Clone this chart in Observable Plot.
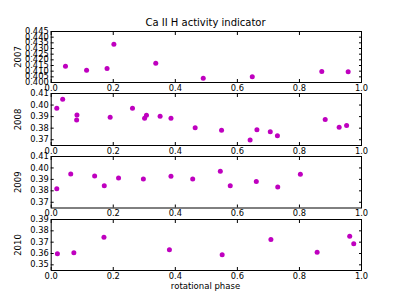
<!DOCTYPE html>
<html><head><meta charset="utf-8">
<script src="https://cdn.jsdelivr.net/npm/d3@7"></script>
<script src="https://cdn.jsdelivr.net/npm/@observablehq/plot@0.6"></script>
<style>
body{margin:0;background:#fff;}
#wrap{position:relative;width:401px;height:301px;font-family:"DejaVu Sans",sans-serif;overflow:hidden;}
#wrap svg{position:absolute;left:0;top:0;}
.t{position:absolute;color:#000;white-space:nowrap;transform:translateX(-50%);line-height:1;}
</style></head><body>
<div id="wrap">
<div class="t" id="title" style="left:205.5px;top:18px;font-size:10px;">Ca II H activity indicator</div>
<div class="t" id="xlab" style="left:205.5px;top:282px;font-size:8.5px;">rotational phase</div>
</div>
<script>
const years = ["2007", "2008", "2009", "2010"];

const phase2007 = [0.046, 0.114, 0.180, 0.202, 0.337, 0.490, 0.648, 0.872, 0.957];
const ca2007    = [0.4144, 0.4109, 0.4124, 0.4338, 0.4170, 0.4038, 0.4050, 0.4097, 0.4094];

const phase2008 = [0.018, 0.037, 0.083, 0.082, 0.190, 0.262, 0.301, 0.307, 0.351, 0.386, 0.464, 0.549, 0.641, 0.663, 0.706, 0.729, 0.883, 0.928, 0.952];
const ca2008    = [0.3972, 0.4050, 0.3915, 0.3871, 0.3894, 0.3972, 0.3885, 0.3911, 0.3903, 0.3885, 0.3804, 0.3781, 0.3697, 0.3787, 0.3770, 0.3735, 0.3874, 0.3807, 0.3824];

const phase2009 = [0.018, 0.063, 0.140, 0.171, 0.217, 0.297, 0.386, 0.456, 0.545, 0.577, 0.661, 0.730, 0.803];
const ca2009    = [0.3818, 0.3947, 0.3930, 0.3844, 0.3913, 0.3904, 0.3928, 0.3904, 0.3971, 0.3844, 0.3882, 0.3833, 0.3945];

const phase2010 = [0.020, 0.073, 0.170, 0.381, 0.551, 0.708, 0.857, 0.962, 0.975];
const ca2010    = [0.3598, 0.3607, 0.3743, 0.3633, 0.3590, 0.3723, 0.3610, 0.3752, 0.3685];

const xTicks = [0.0, 0.2, 0.4, 0.6, 0.8, 1.0];
const yTicks2007 = [0.400, 0.405, 0.410, 0.415, 0.420, 0.425, 0.430, 0.435, 0.440, 0.445];
const yTicks2008 = [0.37, 0.38, 0.39, 0.40, 0.41];
const yTicks2009 = [0.37, 0.38, 0.39, 0.40, 0.41];
const yTicks2010 = [0.35, 0.36, 0.37, 0.38, 0.39];
const yDomain2007 = [0.400, 0.445];
const yDomain2008 = [0.365, 0.410];
const yDomain2009 = [0.365, 0.410];
const yDomain2010 = [0.345, 0.390];

const panels = [
  {year: years[0], phase: phase2007, ca: ca2007, ticks: yTicks2007, domain: yDomain2007, digits: 3, top: 31, bottom: 82},
  {year: years[1], phase: phase2008, ca: ca2008, ticks: yTicks2008, domain: yDomain2008, digits: 2, top: 93, bottom: 145},
  {year: years[2], phase: phase2009, ca: ca2009, ticks: yTicks2009, domain: yDomain2009, digits: 2, top: 156, bottom: 207.5},
  {year: years[3], phase: phase2010, ca: ca2010, ticks: yTicks2010, domain: yDomain2010, digits: 2, top: 219, bottom: 270}
];

const W = 401, H = 301;
const wrap = document.getElementById("wrap");
for (const p of panels) {
  const data = p.phase.map((x, i) => ({x, y: p.ca[i]}));
  const svg = Plot.plot({
    width: W, height: H,
    marginLeft: 50.7, marginRight: 40, marginTop: p.top, marginBottom: H - p.bottom,
    style: {background: "transparent", fontFamily: "DejaVu Sans", fontSize: "8.3px", color: "#000", overflow: "visible"},
    x: {domain: [0, 1]},
    y: {domain: p.domain},
    marks: [
      Plot.axisX(xTicks, {anchor: "bottom", tickSize: -3, tickPadding: 5.5, tickFormat: d => d.toFixed(1), label: null, stroke: "#000"}),
      Plot.axisX(xTicks, {anchor: "top", tickSize: -3, tickFormat: () => "", label: null, stroke: "#000"}),
      Plot.axisY(p.ticks, {anchor: "left", tickSize: -3, tickPadding: 5.5, tickFormat: d => d.toFixed(p.digits), label: null, stroke: "#000"}),
      Plot.axisY(p.ticks, {anchor: "right", tickSize: -3, tickFormat: () => "", label: null, stroke: "#000"}),
      Plot.text([p.year], {text: d => d, frameAnchor: "left", rotate: -90, dx: -32.5, lineAnchor: "middle", textAnchor: "middle", fill: "#000", fontSize: 8.5}),
      Plot.dot(data, {x: "x", y: "y", r: 2.5, fill: "#bf00bf", stroke: "none"}),
      Plot.frame({stroke: "#000", strokeWidth: 1})
    ]
  });
  wrap.appendChild(svg);
}
</script>
</body></html>
